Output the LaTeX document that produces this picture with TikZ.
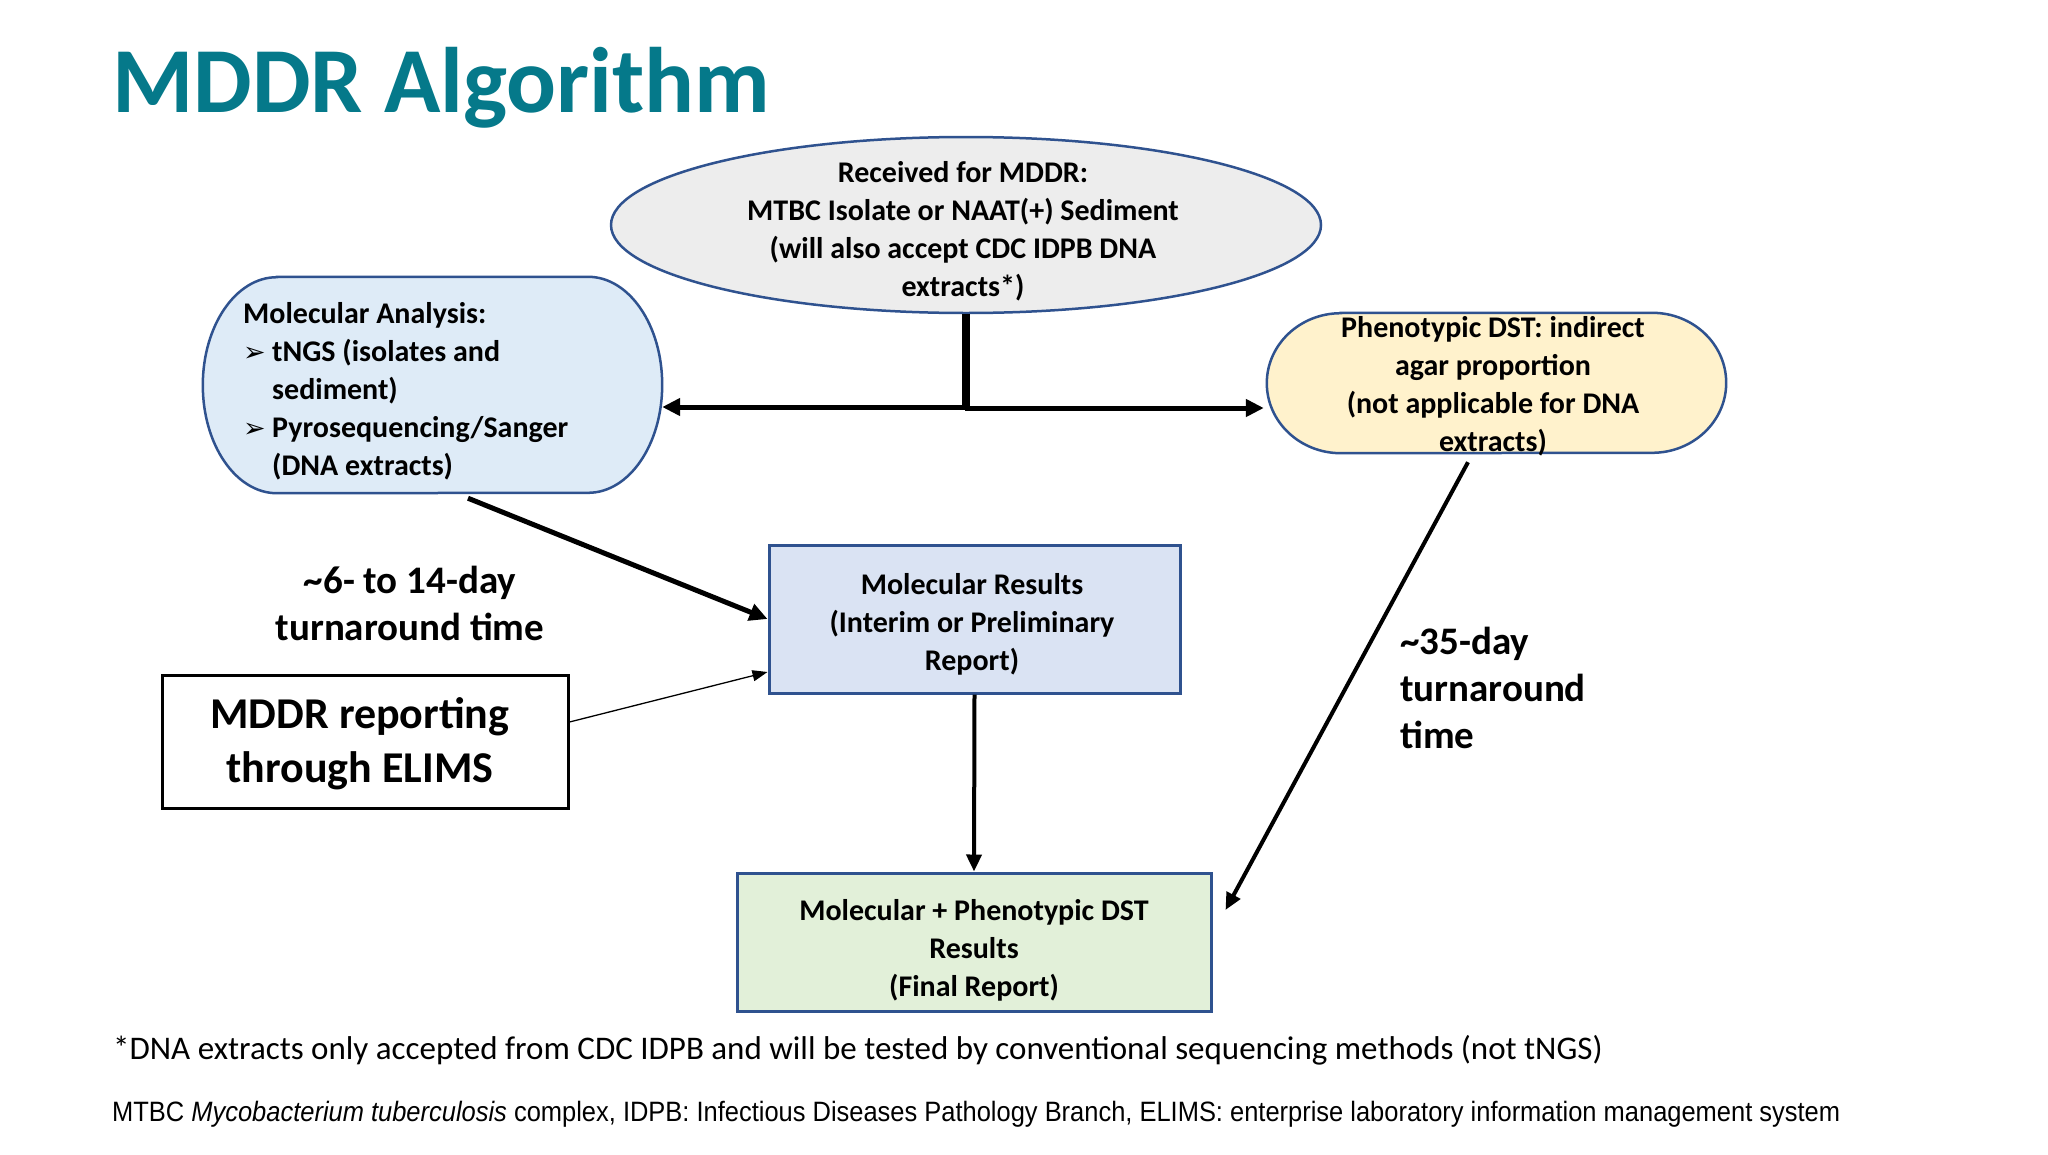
\documentclass[tikz,border=0pt]{standalone}
\usepackage{fontspec}
\setmainfont{Carlito}
\newfontfamily\arialf{Liberation Sans}
\newfontfamily\symf{DejaVu Sans}
\usetikzlibrary{arrows.meta,shapes.geometric}
\definecolor{titleteal}{HTML}{05798A}
\definecolor{bordblue}{HTML}{2F528F}
\definecolor{ellfill}{HTML}{EDEDED}
\definecolor{mafill}{HTML}{DEEBF7}
\definecolor{pdfill}{HTML}{FFF2CC}
\definecolor{mrfill}{HTML}{DAE3F3}
\definecolor{finfill}{HTML}{E2F0D9}
\tikzset{
  bluebord/.style={draw=bordblue, line width=2.5pt},
  boxtext/.style={font=\fontsize{30}{38}\selectfont\bfseries, align=center, inner sep=0pt},
  bigtext/.style={font=\fontsize{39}{47}\selectfont\bfseries, inner sep=0pt},
  thickarrow/.style={line width=5pt, -{Triangle[length=18pt,width=17pt]}},
  medarrow/.style={line width=4pt, -{Triangle[length=17pt,width=15pt]}},
  thinarrow/.style={line width=1.3pt, -{Triangle[length=15pt,width=11pt]}}
}
\newcommand{\mybul}{\makebox[29pt][l]{\symf\fontsize{27}{38}\selectfont ➢}}
\begin{document}
\begin{tikzpicture}[x=1pt,y=-1pt]
\useasboundingbox[fill=white] (0,0) rectangle (2048,1154);

% title
\node[anchor=base west, inner sep=0pt, text=titleteal,
      font=\fontsize{93}{110}\selectfont\bfseries] (title) at (112,112) {MDDR Algorithm};

% top ellipse
\node[ellipse, bluebord, fill=ellfill, minimum width=710pt, minimum height=176pt, inner sep=0pt] (ell) at (966,225) {};
\node[boxtext] (elltext) at (963,231) {Received for MDDR:\\MTBC Isolate or NAAT(+) Sediment\\(will also accept CDC IDPB DNA\\extracts*)};

% Molecular Analysis terminator
\node[inner sep=0pt, minimum width=459pt, minimum height=216pt] (ma) at (432.5,385) {};
\draw[bluebord, fill=mafill] ([xshift=74pt]ma.north west) -- ([xshift=-74pt]ma.north east)
  arc[start angle=90,end angle=-90,x radius=74pt,y radius=108pt]
  -- ([xshift=74pt]ma.south west)
  arc[start angle=270,end angle=90,x radius=74pt,y radius=108pt] -- cycle;
\node[boxtext, align=left, anchor=west] (matext) at (243,391)
  {Molecular Analysis:\\\mybul tNGS (isolates and\\\hspace*{29pt}sediment)\\\mybul Pyrosequencing/Sanger\\\hspace*{29pt}(DNA extracts)};

% Phenotypic DST terminator
\node[inner sep=0pt, minimum width=459pt, minimum height=140pt] (pd) at (1496.5,383) {};
\draw[bluebord, fill=pdfill] ([xshift=74pt]pd.north west) -- ([xshift=-74pt]pd.north east)
  arc[start angle=90,end angle=-90,x radius=74pt,y radius=70pt]
  -- ([xshift=74pt]pd.south west)
  arc[start angle=270,end angle=90,x radius=74pt,y radius=70pt] -- cycle;
\node[boxtext] (pdtext) at (1493,386) {Phenotypic DST: indirect\\agar proportion\\(not applicable for DNA\\extracts)};

% Molecular results
\node[draw=bordblue, line width=3pt, fill=mrfill, inner sep=0pt, minimum width=411pt, minimum height=148pt] (mr) at (974.5,619) {};
\node[boxtext] (mrtext) at (972,624) {Molecular Results\\(Interim or Preliminary\\Report)};

% Final
\node[draw=bordblue, line width=3pt, fill=finfill, inner sep=0pt, minimum width=474pt, minimum height=138pt] (fin) at (974,942) {};
\node[boxtext] (fintext) at (974,950) {Molecular + Phenotypic DST\\Results\\(Final Report)};

% MDDR reporting
\node[draw=black, line width=3pt, fill=white, inner sep=0pt, minimum width=406pt, minimum height=133pt] (mddr) at (365,741.5) {};
\node[align=center, inner sep=0pt, font=\fontsize{44}{54}\selectfont\bfseries] (mddrtext) at (360,744)
  {MDDR reporting\\through ELIMS};

% turnaround labels
\node[bigtext, align=center] (tat1) at (410,603) {\textasciitilde6- to 14-day\\turnaround time};
\node[bigtext, align=left, anchor=west] (tat2) at (1400,688) {\textasciitilde35-day\\turnaround\\time};

% connectors
\draw[thickarrow] ([xshift=-2pt]ell.south) |- ([yshift=-22pt]ma.east);
\draw[thickarrow] ([xshift=1pt]ell.south) |- ([xshift=-3pt,yshift=-25pt]pd.west);
\draw[thickarrow] ([xshift=35.5pt,yshift=-5pt]ma.south) -- (mr.west);
\draw[thinarrow] ([yshift=19.5pt]mddr.east) -- ([yshift=-53pt]mr.west);
\draw[medarrow] (mr.south) -- (fin.north);
\draw[medarrow] ([xshift=-28.5pt,yshift=-9pt]pd.south) -- ([xshift=13pt,yshift=32pt]fin.east);

% footnotes
\node[anchor=base west, inner sep=0pt, font=\fontsize{33}{40}\selectfont] (fn1) at (113,1059)
  {*DNA extracts only accepted from CDC IDPB and will be tested by conventional sequencing methods (not tNGS)};
\node[anchor=base west, inner sep=0pt, font=\arialf\fontsize{28}{34}\selectfont] (fn2) at (112,1121)
  {\resizebox{1728pt}{\height}{MTBC \textit{Mycobacterium tuberculosis} complex, IDPB: Infectious Diseases Pathology Branch, ELIMS: enterprise laboratory information management system}};
\end{tikzpicture}
\end{document}
